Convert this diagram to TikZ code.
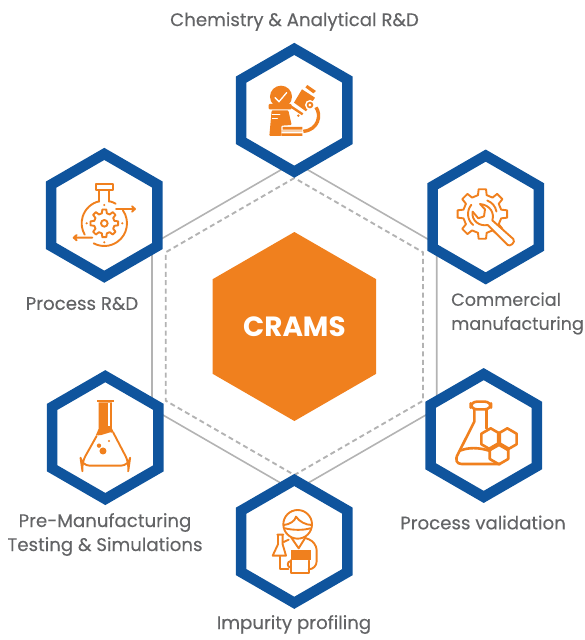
\documentclass[tikz,border=0pt]{standalone}
\usepackage{fontspec}
\setmainfont{Poppins}
\newfontfamily\labfont{Poppins}[FakeBold=0.25]
\usetikzlibrary{shapes.geometric}
\definecolor{hexblue}{HTML}{0F549D}
\definecolor{hexorange}{HTML}{F0801E}
\definecolor{labelgray}{HTML}{636466}
\definecolor{linegray}{HTML}{B3B3B3}
\tikzset{
  hexshape/.style={regular polygon,regular polygon sides=6,shape border rotate=30,inner sep=0pt,outer sep=0pt},
  bluehex/.style={hexshape,minimum size=122.8pt,draw=hexblue,line width=10.5pt,fill=white,miter limit=10},
  grayhex/.style={hexshape,draw=linegray,line width=1.6pt},
  dashhex/.style={grayhex,dash pattern=on 5pt off 3.4pt,line width=1.9pt},
  corehex/.style={hexshape,minimum size=189pt,fill=hexorange,text=white,font=\bfseries\fontsize{27.8}{30}\selectfont},
  lab/.style={text=labelgray,font=\labfont\fontsize{18.2}{24}\selectfont,inner sep=0pt,align=center},
  iconat/.style={shift={#1},x=0.3333pt,y=-0.3333pt},
  lnb/.style={draw=hexorange,line width=1.9pt,line join=round,line cap=round},
  lnc/.style={draw=hexorange,line width=2.6pt,line join=round,line cap=round},
  wh/.style={draw=white,line width=1pt,line cap=round},
}
\newcommand{\gearpath}[5]{% ro ri n w1 w2
  ({0-#4}:#2)\foreach \a in {1,...,#3}{ -- ({(\a-1)*360/#3-#4}:#2) -- ({(\a-1)*360/#3-#5}:#1) -- ({(\a-1)*360/#3+#5}:#1) -- ({(\a-1)*360/#3+#4}:#2)} -- cycle}
\begin{document}
\begin{tikzpicture}[x=1pt,y=-1pt]
\useasboundingbox (0,0) rectangle (585,640);
\node[grayhex,minimum size=328.8pt] (outerring) at (294.4,326.5) {};
\node[dashhex,minimum size=297pt] (dashring) at (294.4,326.5) {};
\node[corehex] (core) at (294.4,326.5) {CRAMS};
\node[bluehex] (hextop) at (294.3,110.3) {};
\node[bluehex] (hexul) at (104.3,215.3) {};
\node[bluehex] (hexur) at (485.7,217) {};
\node[bluehex] (hexlr) at (483.7,435.5) {};
\node[bluehex] (hexll) at (105.3,437.6) {};
\node[bluehex] (hexbot) at (294.3,541.4) {};
\node[lab] (ltop) at (294.5,21.5) {Chemistry \& Analytical R\&D};
\node[lab] (lul) at (82,303.5) {Process R\&D};
\node[lab,align=left,anchor=west,font=\labfont\fontsize{17.6}{24}\selectfont] (lur) at (451,313.5) {Commercial\\manufacturing};
\node[lab] (llr) at (483,522.5) {Process validation};
\node[lab] (lll) at (105,534.5) {Pre-Manufacturing\\Testing \& Simulations};
\node[lab] (lbot) at (294,624.5) {Impurity profiling};
% microscope
\begin{scope}[iconat={(220,30)}]
\fill[hexorange] (183,200) circle (33);
\draw[wh,line width=1.3pt] (165,203) -- (177,215) -- (200,188);
\fill[hexorange,rounded corners=1pt] (146,222) rectangle (215,238);
\fill[hexorange,rounded corners=1pt] (155,241) -- (205,241) -- (215,285) -- (184,287) -- (184,318) -- (148,318) -- cycle;
\draw[wh] (157,253) -- (180,253) (157,265) -- (172,265);
\fill[hexorange] (188,291) rectangle (247,299) (184,302) rectangle (247,304) (184,310) rectangle (247,318);
\fill[hexorange] (246,178) -- (285,203) -- (258,244) -- (222,218) -- cycle;
\fill[hexorange] (256,172) -- (262,165) -- (288,183) -- (280,190) -- cycle;
\fill[hexorange] (210,232) -- (214,226) -- (250,250) -- (246,256) -- cycle (235,257) circle (4);
\fill[white] (270,225) circle (15);
\fill[hexorange] (270,225) circle (10);
\fill[white] (270,225) circle (4.5);
\draw[hexorange,line width=3.4pt] (288,232) .. controls (305,255) and (295,300) .. (250,304);
\end{scope}
% flask with gear
\begin{scope}[iconat={(30,140)}]
\draw[lnb] (197,132) rectangle (250,150);
\draw[lnb] (208,150) -- (208,185) (238,150) -- (238,185);
\draw[lnb] (223,250) ++(-103:68) arc[start angle=-103,end angle=-210,radius=68];
\draw[lnb] (223,250) ++(-77:68) arc[start angle=-77,end angle=-60,radius=68];
\draw[lnb] (223,250) ++(-35:68) arc[start angle=-35,end angle=118,radius=68];
\draw[lnb] (258,207) -- (314,207) (306,199) -- (315,207) -- (306,215);
\draw[lnb] (187,293) -- (132,293) (140,285) -- (131,293) -- (140,301);
\begin{scope}[shift={(223,250)}]
\draw[lnb] \gearpath{42}{31}{8}{14}{8};
\draw[lnb] (0,0) circle (10);
\end{scope}
\fill[hexorange] (170,250) circle (3.5) (277,250) circle (3.5) (223,307) circle (3.5) (223,195) circle (3.5);
\end{scope}
% wrench and gear
\begin{scope}[iconat={(415,145)}]
\begin{scope}[shift={(202,207)}]
\draw[lnb,fill=white] \gearpath{75}{58}{8}{13}{8.5};
\draw[lnb] (0,0) ++(-10:43) arc[start angle=-10,end angle=-70,radius=43];
\draw[lnb] (0,0) ++(130:43) arc[start angle=130,end angle=220,radius=43];
\end{scope}
\draw[lnb,fill=white] (232,226) .. controls (239,205) and (226,180) .. (195,177) -- (210,193) -- (207,214) -- (190,220) -- (173,200) .. controls (168,228) and (195,245) .. (218,240) -- (278,300) .. controls (285,306) and (303,292) .. (295,282) -- cycle;
\end{scope}
% flask with hexagons
\begin{scope}[iconat={(415,360)}]
\draw[lnc,rounded corners=6pt] (167,125) rectangle (228,148);
\draw[lnc] (178,148) -- (178,185) -- (130,280) .. controls (118,300) and (125,312) .. (140,312) -- (255,312);
\draw[lnc] (215,148) -- (215,205);
\draw[lnc] (135,272) .. controls (160,262) and (190,262) .. (222,272);
\foreach \cx/\cy in {227/237,277/237,252/281}{
  \draw[lnc] (\cx,\cy) ++(90:32) -- ++(210:32) -- ++(270:32) -- ++(330:32) -- ++(30:32) -- ++(90:32) -- cycle;
}
\end{scope}
% conical flask
\begin{scope}[iconat={(30,360)}]
\fill[hexorange] (201,120) rectangle (251,127);
\fill[hexorange] (206,127) -- (246,127) -- (246,206) -- (252,218) .. controls (235,212) and (220,230) .. (198,225) -- (206,206) -- cycle;
\fill[white] (233,130) rectangle (240,197);
\draw[lnb,rounded corners=8pt] (200,228) -- (154,310) -- (155,317) -- (297,317) -- (298,310) -- (250,218);
\fill[hexorange] (219,273) circle (10.5) (207,257) circle (6.5) (237,243) circle (3.5);
\end{scope}
% person
\begin{scope}[iconat={(220,465)}]
\draw[lnb] (233,178) circle (43);
\draw[lnb] (192,180) .. controls (210,178) and (225,168) .. (228,155) .. controls (238,170) and (258,180) .. (275,180);
\draw[lnb] (195,190) .. controls (220,196) and (250,196) .. (271,190);
\draw[lnb] (214,218) -- (236,250) -- (256,218);
\draw[lnb,rounded corners=8pt] (256,219) -- (290,232) -- (290,313) -- (268,313);
\draw[lnb] (206,224) -- (191,231);
\draw[lnb] (180,275) -- (180,313) -- (205,313);
\fill[hexorange] (213,255) rectangle (272,285);
\draw[lnb] (213,285) -- (213,325) -- (268,325) -- (268,287);
\draw[lnb] (213,288) .. controls (200,288) and (200,308) .. (213,308);
\draw[lnb] (172,209) -- (190,209) (174,209) -- (174,238) -- (158,272) -- (198,272) -- (188,238) -- (188,209);
\end{scope}
\end{tikzpicture}
\end{document}
